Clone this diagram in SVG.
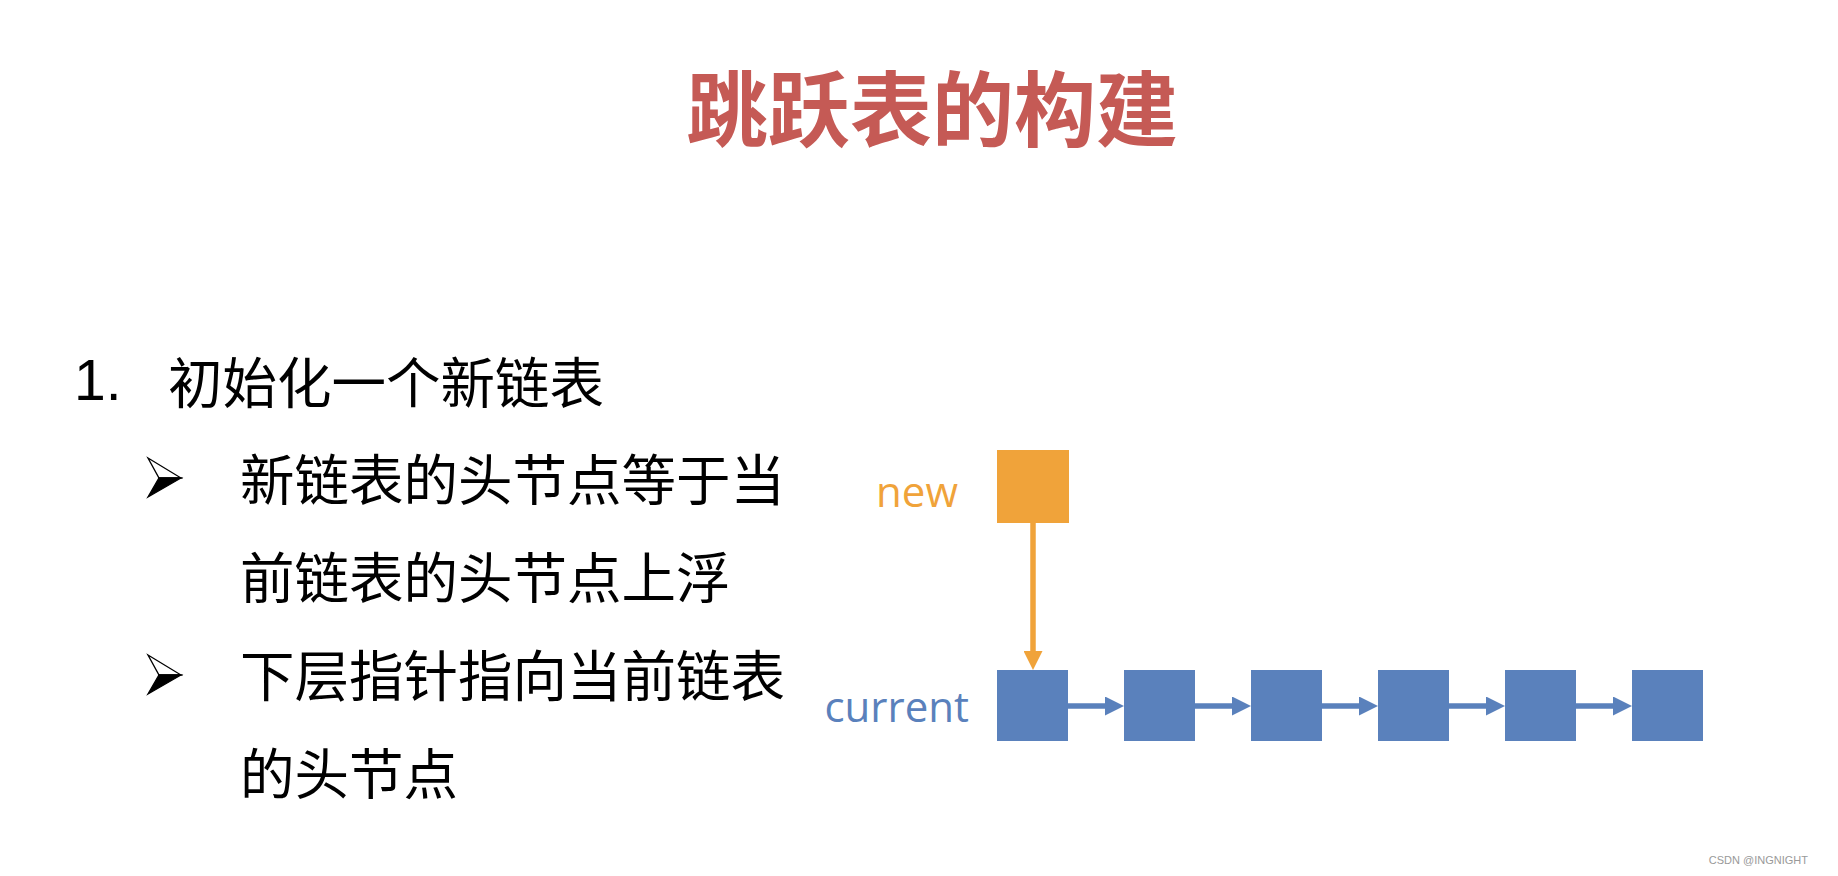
<svg xmlns="http://www.w3.org/2000/svg" width="1838" height="876" viewBox="0 0 1838 876">
  <style>
    .title { font-family: "Noto Sans CJK SC", "Noto Sans", sans-serif; font-weight: bold; font-size: 82px; fill: #C55A55; }
    .body { font-family: "Noto Sans CJK SC", "Noto Sans", sans-serif; font-size: 54.5px; fill: #000000; }
    .num { font-family: "Liberation Sans", Arial, sans-serif; font-size: 57px; fill: #000000; }
    .lbl { font-family: "Open Sans", "Noto Sans", sans-serif; font-size: 42px; }
    .blue { fill: #5A81BC; }
    .orange { fill: #F0A33A; }
    .wm { font-family: "Liberation Sans", Arial, sans-serif; font-size: 11px; fill: #999999; }
    .cb { stroke: #5A81BC; stroke-width: 5.5; fill: none; }
    .co { stroke: #F0A33A; stroke-width: 5.5; fill: none; }
  </style>
  <defs>
    <marker id="ab" markerWidth="19" markerHeight="19" refX="5" refY="9.5" markerUnits="userSpaceOnUse" orient="auto">
      <path d="M0,0 L19,9.5 L0,19 Z" fill="#5A81BC"/>
    </marker>
    <marker id="ao" markerWidth="19" markerHeight="19" refX="5" refY="9.5" markerUnits="userSpaceOnUse" orient="auto">
      <path d="M0,0 L19,9.5 L0,19 Z" fill="#F0A33A"/>
    </marker>
    <g id="bullet">
      <path d="M0,0 L33,20 L11,20 Z" fill="#ffffff" stroke="#000000" stroke-width="1.3" stroke-linejoin="miter"/>
      <path d="M0,39 L33,20 L11,20 Z" fill="#000000" stroke="#000000" stroke-width="1.3"/>
    </g>
  </defs>
  <rect width="1838" height="876" fill="#ffffff"/>

  <text class="title" x="932" y="140" text-anchor="middle">跳跃表的构建</text>

  <g id="text-list">
    <text class="num" x="74" y="400">1.</text>
    <text class="body" x="168" y="403">初始化一个新链表</text>
    <use href="#bullet" x="148" y="458"/>
    <text class="body" x="240" y="500">新链表的头节点等于当</text>
    <text class="body" x="240" y="598">前链表的头节点上浮</text>
    <use href="#bullet" x="148" y="655"/>
    <text class="body" x="240" y="696">下层指针指向当前链表</text>
    <text class="body" x="240" y="794">的头节点</text>
  </g>

  <g id="connectors">
    <line class="co" x1="1033" y1="523" x2="1033" y2="656" marker-end="url(#ao)"/>
    <line class="cb" x1="1068" y1="706" x2="1110" y2="706" marker-end="url(#ab)"/>
    <line class="cb" x1="1195" y1="706" x2="1237" y2="706" marker-end="url(#ab)"/>
    <line class="cb" x1="1322" y1="706" x2="1364" y2="706" marker-end="url(#ab)"/>
    <line class="cb" x1="1449" y1="706" x2="1491" y2="706" marker-end="url(#ab)"/>
    <line class="cb" x1="1576" y1="706" x2="1618" y2="706" marker-end="url(#ab)"/>
  </g>

  <g id="node-new">
    <text class="lbl orange" x="958" y="507" text-anchor="end">new</text>
    <rect class="orange" x="997" y="450" width="72" height="73"/>
  </g>
  <g id="node-current">
    <text class="lbl blue" x="969" y="722" text-anchor="end">current</text>
    <rect class="blue" x="997" y="670" width="71" height="71"/>
  </g>
  <g id="node-2"><rect class="blue" x="1124" y="670" width="71" height="71"/></g>
  <g id="node-3"><rect class="blue" x="1251" y="670" width="71" height="71"/></g>
  <g id="node-4"><rect class="blue" x="1378" y="670" width="71" height="71"/></g>
  <g id="node-5"><rect class="blue" x="1505" y="670" width="71" height="71"/></g>
  <g id="node-6"><rect class="blue" x="1632" y="670" width="71" height="71"/></g>

  <text class="wm" x="1808" y="864" text-anchor="end">CSDN @INGNIGHT</text>
</svg>
